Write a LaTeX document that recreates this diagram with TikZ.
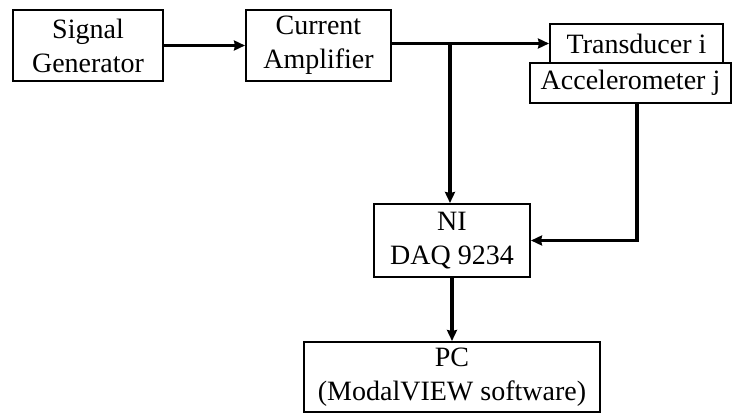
\documentclass[tikz,border=0pt]{standalone}
\usepackage{fontspec}
\setmainfont{Liberation Serif}
\usetikzlibrary{arrows.meta}
\begin{document}
\begin{tikzpicture}[x=1pt,y=-1pt,
  blk/.style={draw,line width=2pt,inner sep=0pt,align=center,
    font=\fontsize{28}{34}\selectfont},
  conn/.style={line width=3.2pt,-{Stealth[length=11pt,width=10pt,inset=1pt]}}]
\useasboundingbox (0,0) rectangle (732,414);
\node[blk,minimum width=150pt,minimum height=71pt] (sg) at (88,45.5) {Signal\\Generator};
\node[blk,minimum width=145pt,minimum height=71pt] (ca) at (318.5,45.5) {Current\\Amplifier};
\node[blk,minimum width=173pt,minimum height=39pt] (tr) at (636.5,43.5) {Transducer i};
\node[blk,minimum width=201pt,minimum height=40pt] (ac) at (630.5,83) {Accelerometer j};
\node[blk,minimum width=156pt,minimum height=73pt] (ni) at (452,240.5) {NI\\DAQ 9234};
\node[blk,minimum width=296pt,minimum height=70pt] (pc) at (452,377) {PC\\(ModalVIEW software)};
\coordinate (j) at (450,43.5);
\draw[conn] (sg.east) -- (ca.west);
\draw[conn] (ca.east |- tr.west) -- (tr.west);
\draw[conn] (j) -- (j |- ni.north);
\draw[conn] ([xshift=6.5pt]ac.south) |- (ni.east);
\draw[conn] (ni.south) -- (pc.north);
\end{tikzpicture}
\end{document}
